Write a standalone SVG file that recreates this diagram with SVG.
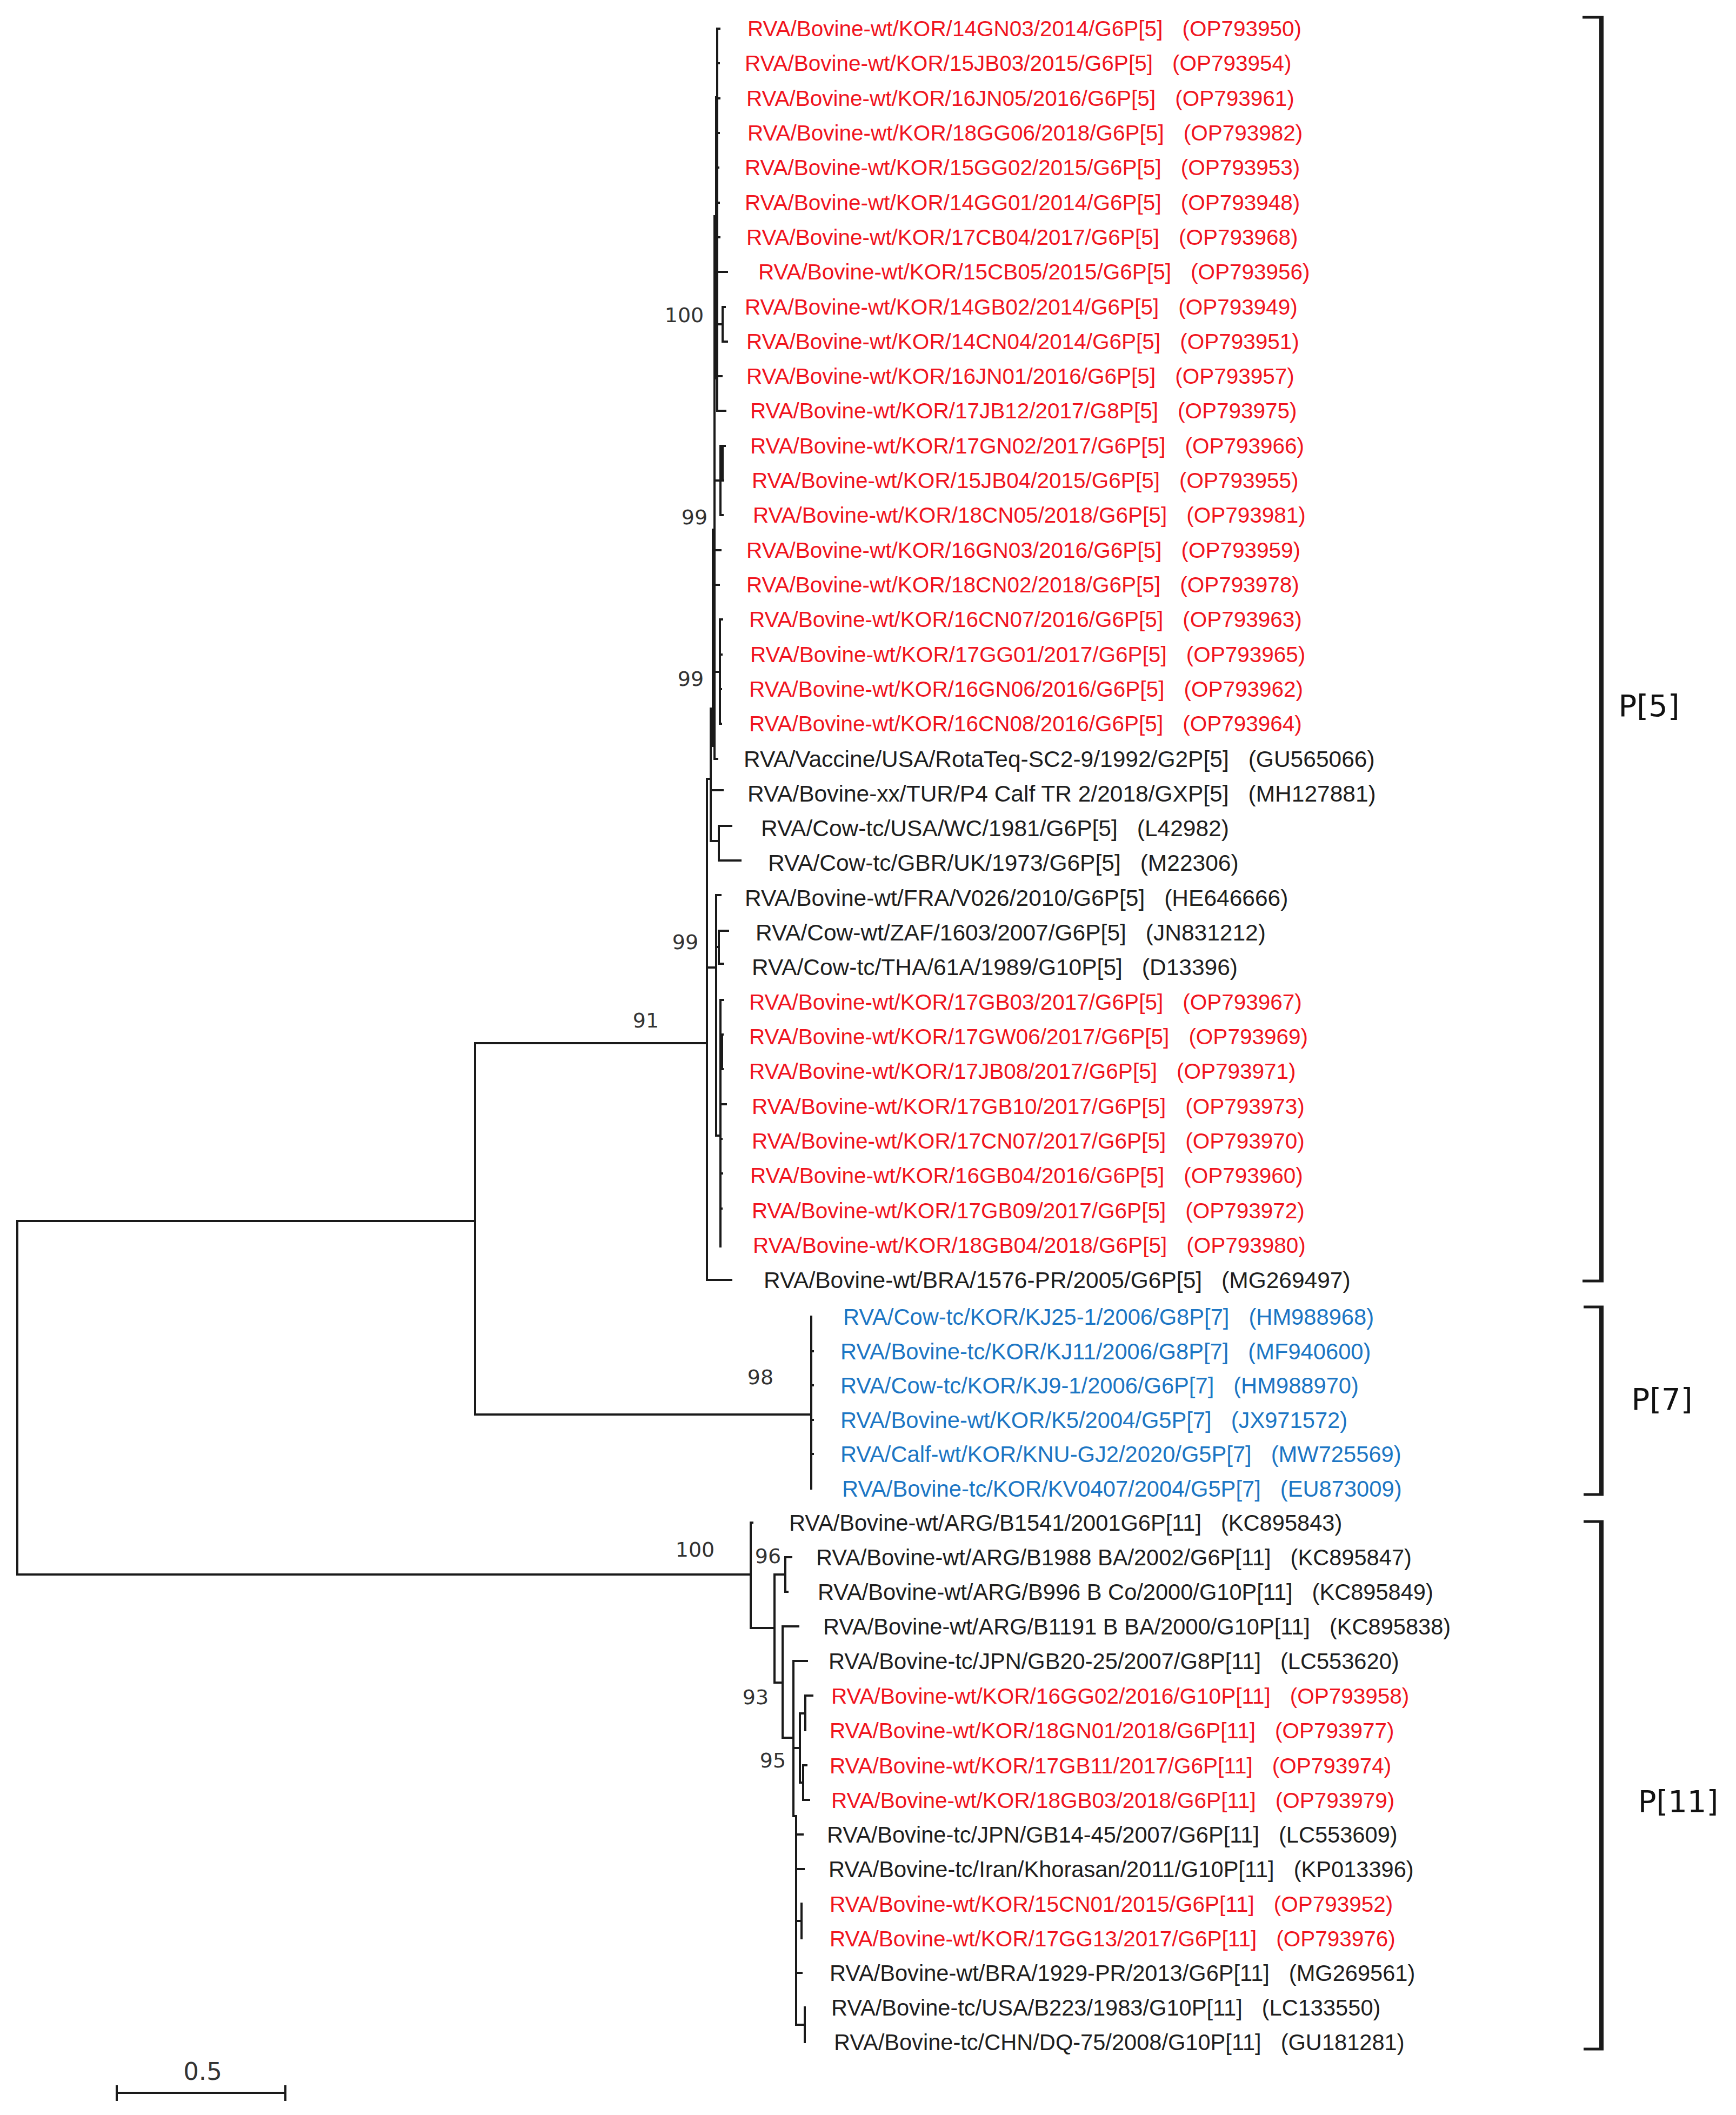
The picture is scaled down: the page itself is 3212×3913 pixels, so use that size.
<svg xmlns="http://www.w3.org/2000/svg" width="3212" height="3913" viewBox="0 0 3212 3913">
<style>
.e{fill:none;stroke:#1a1a1a;stroke-width:4;stroke-linecap:square}
.br{fill:none;stroke:#1a1a1a}
.t{font-family:"Liberation Sans",Arial,sans-serif}
.r{fill:#f0141e;font-size:40.5px}
.k{fill:#1e1e1e;font-size:42.5px}
.k2{fill:#1e1e1e;font-size:41.6px}
.b{fill:#1c76c4;font-size:41.7px}
.bs{font-family:"DejaVu Sans",sans-serif;font-size:38px;fill:#333;text-anchor:middle}
.cl{font-family:"DejaVu Sans",sans-serif;font-size:56px;fill:#111;text-anchor:middle}
</style>
<rect width="3212" height="3913" fill="#fff"/>
<g id="connectors" class="e">
<path d="M32,2259V2913M32,2259H879M32,2913H1389M879,1930V2617M879,1930H1308M879,2617H1501"/>
<path d="M1501,2436V2754M1501,2500h3M1501,2563h3M1501,2627h3M1501,2690h3"/>
<path d="M1308,1441V2368M1308,2368H1353M1308,1441H1315M1315,1311V1556M1315,1462H1337M1315,1556H1330M1330,1528V1592M1330,1528H1353M1330,1592H1370M1315,1311H1322"/>
<path d="M1322,400V1404M1322,1404H1327M1327,53V760M1322,400H1327M1325,180V700M1319,980V1380"/>
<path d="M1327,53H1331M1327,117H1330M1327,182H1331M1327,246H1330M1327,310H1329M1327,375H1330M1327,439H1331M1327,503H1345"/>
<path d="M1327,600H1337M1337,568V632M1337,568H1341M1337,632H1345M1327,696H1335M1327,760H1342"/>
<path d="M1322,889H1333M1333,825V953M1333,825H1341M1333,889H1338M1333,953H1337M1337,825V889"/>
<path d="M1322,1018H1333M1322,1082H1330"/>
<path d="M1322,1243H1332M1332,1146V1339M1332,1146H1336M1332,1211H1335M1332,1275H1334M1332,1339H1334"/>
<path d="M1308,1790H1325M1325,1656V2101M1325,1656H1333M1325,1752H1330M1330,1722V1783M1330,1722H1347M1330,1783H1338"/>
<path d="M1325,2101H1333M1333,1850V2306M1333,1850H1338M1333,1914H1337M1336,1914V1978M1333,1978H1337M1333,2043H1343M1333,2107H1335M1333,2171H1336M1333,2236H1335"/>
<path d="M1389,2817V3012M1389,2817h3M1389,3012H1433M1433,2913V3113M1433,2913H1453M1453,2881V2945M1453,2881H1464M1453,2945H1457"/>
<path d="M1433,3113H1448M1448,3009V3215M1448,3009H1477M1448,3215H1468M1468,3073V3360M1468,3073H1493"/>
<path d="M1468,3234H1480M1480,3170V3298M1480,3170H1490M1490,3137V3201M1490,3137H1503M1480,3298H1486M1486,3266V3330M1486,3266H1492M1486,3330H1497"/>
<path d="M1468,3360H1473M1473,3360V3746M1473,3394H1485M1473,3458H1487M1473,3554H1483M1483,3522V3586M1473,3650H1483M1473,3746H1489M1489,3714V3778"/>
</g>
<g id="scale-bar">
<path class="e" d="M216,3872H528M216,3860V3885M528,3860V3885"/>
<text class="bs" x="375" y="3848" style="font-size:45px">0.5</text>
</g>
<g id="clusters">
<g id="cluster-P5"><path class="br" stroke-width="8" d="M2963,30V2372"/><path class="br" stroke-width="5" d="M2928,32H2967M2928,2370H2967"/><text class="cl" x="3051" y="1325">P[5]</text></g>
<g id="cluster-P7"><path class="br" stroke-width="8" d="M2963,2416V2767"/><path class="br" stroke-width="5" d="M2930,2418H2967M2930,2765H2967"/><text class="cl" x="3075" y="2608">P[7]</text></g>
<g id="cluster-P11"><path class="br" stroke-width="8" d="M2963,2813V3793"/><path class="br" stroke-width="5" d="M2930,2815H2967M2930,3791H2967"/><text class="cl" x="3105" y="3352">P[11]</text></g>
</g>
<g id="bootstrap">
<text class="bs" x="1266" y="596">100</text>
<text class="bs" x="1285" y="970">99</text>
<text class="bs" x="1278" y="1269">99</text>
<text class="bs" x="1268" y="1756">99</text>
<text class="bs" x="1195" y="1901">91</text>
<text class="bs" x="1407" y="2561">98</text>
<text class="bs" x="1286" y="2880">100</text>
<text class="bs" x="1421" y="2892">96</text>
<text class="bs" x="1398" y="3153">93</text>
<text class="bs" x="1430" y="3270">95</text>
</g>
<g id="tips">
<g id="t1"><text class="t r" x="1383" y="67">RVA/Bovine-wt/KOR/14GN03/2014/G6P[5]<tspan dx="36">(OP793950)</tspan></text></g>
<g id="t2"><text class="t r" x="1378" y="131">RVA/Bovine-wt/KOR/15JB03/2015/G6P[5]<tspan dx="36">(OP793954)</tspan></text></g>
<g id="t3"><text class="t r" x="1381" y="196">RVA/Bovine-wt/KOR/16JN05/2016/G6P[5]<tspan dx="36">(OP793961)</tspan></text></g>
<g id="t4"><text class="t r" x="1383" y="260">RVA/Bovine-wt/KOR/18GG06/2018/G6P[5]<tspan dx="36">(OP793982)</tspan></text></g>
<g id="t5"><text class="t r" x="1378" y="324">RVA/Bovine-wt/KOR/15GG02/2015/G6P[5]<tspan dx="36">(OP793953)</tspan></text></g>
<g id="t6"><text class="t r" x="1378" y="389">RVA/Bovine-wt/KOR/14GG01/2014/G6P[5]<tspan dx="36">(OP793948)</tspan></text></g>
<g id="t7"><text class="t r" x="1381" y="453">RVA/Bovine-wt/KOR/17CB04/2017/G6P[5]<tspan dx="36">(OP793968)</tspan></text></g>
<g id="t8"><text class="t r" x="1403" y="517">RVA/Bovine-wt/KOR/15CB05/2015/G6P[5]<tspan dx="36">(OP793956)</tspan></text></g>
<g id="t9"><text class="t r" x="1378" y="582">RVA/Bovine-wt/KOR/14GB02/2014/G6P[5]<tspan dx="36">(OP793949)</tspan></text></g>
<g id="t10"><text class="t r" x="1381" y="646">RVA/Bovine-wt/KOR/14CN04/2014/G6P[5]<tspan dx="36">(OP793951)</tspan></text></g>
<g id="t11"><text class="t r" x="1381" y="710">RVA/Bovine-wt/KOR/16JN01/2016/G6P[5]<tspan dx="36">(OP793957)</tspan></text></g>
<g id="t12"><text class="t r" x="1388" y="774">RVA/Bovine-wt/KOR/17JB12/2017/G8P[5]<tspan dx="36">(OP793975)</tspan></text></g>
<g id="t13"><text class="t r" x="1388" y="839">RVA/Bovine-wt/KOR/17GN02/2017/G6P[5]<tspan dx="36">(OP793966)</tspan></text></g>
<g id="t14"><text class="t r" x="1391" y="903">RVA/Bovine-wt/KOR/15JB04/2015/G6P[5]<tspan dx="36">(OP793955)</tspan></text></g>
<g id="t15"><text class="t r" x="1393" y="967">RVA/Bovine-wt/KOR/18CN05/2018/G6P[5]<tspan dx="36">(OP793981)</tspan></text></g>
<g id="t16"><text class="t r" x="1381" y="1032">RVA/Bovine-wt/KOR/16GN03/2016/G6P[5]<tspan dx="36">(OP793959)</tspan></text></g>
<g id="t17"><text class="t r" x="1381" y="1096">RVA/Bovine-wt/KOR/18CN02/2018/G6P[5]<tspan dx="36">(OP793978)</tspan></text></g>
<g id="t18"><text class="t r" x="1386" y="1160">RVA/Bovine-wt/KOR/16CN07/2016/G6P[5]<tspan dx="36">(OP793963)</tspan></text></g>
<g id="t19"><text class="t r" x="1388" y="1225">RVA/Bovine-wt/KOR/17GG01/2017/G6P[5]<tspan dx="36">(OP793965)</tspan></text></g>
<g id="t20"><text class="t r" x="1386" y="1289">RVA/Bovine-wt/KOR/16GN06/2016/G6P[5]<tspan dx="36">(OP793962)</tspan></text></g>
<g id="t21"><text class="t r" x="1386" y="1353">RVA/Bovine-wt/KOR/16CN08/2016/G6P[5]<tspan dx="36">(OP793964)</tspan></text></g>
<g id="t22"><text class="t k" x="1376" y="1419">RVA/Vaccine/USA/RotaTeq-SC2-9/1992/G2P[5]<tspan dx="36">(GU565066)</tspan></text></g>
<g id="t23"><text class="t k" x="1383" y="1483">RVA/Bovine-xx/TUR/P4 Calf TR 2/2018/GXP[5]<tspan dx="36">(MH127881)</tspan></text></g>
<g id="t24"><text class="t k" x="1408" y="1547">RVA/Cow-tc/USA/WC/1981/G6P[5]<tspan dx="36">(L42982)</tspan></text></g>
<g id="t25"><text class="t k" x="1421" y="1611">RVA/Cow-tc/GBR/UK/1973/G6P[5]<tspan dx="36">(M22306)</tspan></text></g>
<g id="t26"><text class="t k" x="1378" y="1676">RVA/Bovine-wt/FRA/V026/2010/G6P[5]<tspan dx="36">(HE646666)</tspan></text></g>
<g id="t27"><text class="t k" x="1398" y="1740">RVA/Cow-wt/ZAF/1603/2007/G6P[5]<tspan dx="36">(JN831212)</tspan></text></g>
<g id="t28"><text class="t k" x="1391" y="1804">RVA/Cow-tc/THA/61A/1989/G10P[5]<tspan dx="36">(D13396)</tspan></text></g>
<g id="t29"><text class="t r" x="1386" y="1868">RVA/Bovine-wt/KOR/17GB03/2017/G6P[5]<tspan dx="36">(OP793967)</tspan></text></g>
<g id="t30"><text class="t r" x="1386" y="1932">RVA/Bovine-wt/KOR/17GW06/2017/G6P[5]<tspan dx="36">(OP793969)</tspan></text></g>
<g id="t31"><text class="t r" x="1386" y="1996">RVA/Bovine-wt/KOR/17JB08/2017/G6P[5]<tspan dx="36">(OP793971)</tspan></text></g>
<g id="t32"><text class="t r" x="1391" y="2061">RVA/Bovine-wt/KOR/17GB10/2017/G6P[5]<tspan dx="36">(OP793973)</tspan></text></g>
<g id="t33"><text class="t r" x="1391" y="2125">RVA/Bovine-wt/KOR/17CN07/2017/G6P[5]<tspan dx="36">(OP793970)</tspan></text></g>
<g id="t34"><text class="t r" x="1388" y="2189">RVA/Bovine-wt/KOR/16GB04/2016/G6P[5]<tspan dx="36">(OP793960)</tspan></text></g>
<g id="t35"><text class="t r" x="1391" y="2254">RVA/Bovine-wt/KOR/17GB09/2017/G6P[5]<tspan dx="36">(OP793972)</tspan></text></g>
<g id="t36"><text class="t r" x="1393" y="2318">RVA/Bovine-wt/KOR/18GB04/2018/G6P[5]<tspan dx="36">(OP793980)</tspan></text></g>
<g id="t37"><text class="t k" x="1413" y="2383">RVA/Bovine-wt/BRA/1576-PR/2005/G6P[5]<tspan dx="36">(MG269497)</tspan></text></g>
<g id="t38"><text class="t b" x="1560" y="2451">RVA/Cow-tc/KOR/KJ25-1/2006/G8P[7]<tspan dx="36">(HM988968)</tspan></text></g>
<g id="t39"><text class="t b" x="1555" y="2515">RVA/Bovine-tc/KOR/KJ11/2006/G8P[7]<tspan dx="36">(MF940600)</tspan></text></g>
<g id="t40"><text class="t b" x="1555" y="2578">RVA/Cow-tc/KOR/KJ9-1/2006/G6P[7]<tspan dx="36">(HM988970)</tspan></text></g>
<g id="t41"><text class="t b" x="1555" y="2642">RVA/Bovine-wt/KOR/K5/2004/G5P[7]<tspan dx="36">(JX971572)</tspan></text></g>
<g id="t42"><text class="t b" x="1555" y="2705">RVA/Calf-wt/KOR/KNU-GJ2/2020/G5P[7]<tspan dx="36">(MW725569)</tspan></text></g>
<g id="t43"><text class="t b" x="1558" y="2769">RVA/Bovine-tc/KOR/KV0407/2004/G5P[7]<tspan dx="36">(EU873009)</tspan></text></g>
<g id="t44"><text class="t k2" x="1460" y="2832">RVA/Bovine-wt/ARG/B1541/2001G6P[11]<tspan dx="36">(KC895843)</tspan></text></g>
<g id="t45"><text class="t k2" x="1510" y="2896">RVA/Bovine-wt/ARG/B1988 BA/2002/G6P[11]<tspan dx="36">(KC895847)</tspan></text></g>
<g id="t46"><text class="t k2" x="1513" y="2960">RVA/Bovine-wt/ARG/B996 B Co/2000/G10P[11]<tspan dx="36">(KC895849)</tspan></text></g>
<g id="t47"><text class="t k2" x="1523" y="3024">RVA/Bovine-wt/ARG/B1191 B BA/2000/G10P[11]<tspan dx="36">(KC895838)</tspan></text></g>
<g id="t48"><text class="t k2" x="1533" y="3088">RVA/Bovine-tc/JPN/GB20-25/2007/G8P[11]<tspan dx="36">(LC553620)</tspan></text></g>
<g id="t49"><text class="t r" x="1538" y="3152">RVA/Bovine-wt/KOR/16GG02/2016/G10P[11]<tspan dx="36">(OP793958)</tspan></text></g>
<g id="t50"><text class="t r" x="1535" y="3216">RVA/Bovine-wt/KOR/18GN01/2018/G6P[11]<tspan dx="36">(OP793977)</tspan></text></g>
<g id="t51"><text class="t r" x="1535" y="3281">RVA/Bovine-wt/KOR/17GB11/2017/G6P[11]<tspan dx="36">(OP793974)</tspan></text></g>
<g id="t52"><text class="t r" x="1538" y="3345">RVA/Bovine-wt/KOR/18GB03/2018/G6P[11]<tspan dx="36">(OP793979)</tspan></text></g>
<g id="t53"><text class="t k2" x="1530" y="3409">RVA/Bovine-tc/JPN/GB14-45/2007/G6P[11]<tspan dx="36">(LC553609)</tspan></text></g>
<g id="t54"><text class="t k2" x="1533" y="3473">RVA/Bovine-tc/Iran/Khorasan/2011/G10P[11]<tspan dx="36">(KP013396)</tspan></text></g>
<g id="t55"><text class="t r" x="1535" y="3537">RVA/Bovine-wt/KOR/15CN01/2015/G6P[11]<tspan dx="36">(OP793952)</tspan></text></g>
<g id="t56"><text class="t r" x="1535" y="3601">RVA/Bovine-wt/KOR/17GG13/2017/G6P[11]<tspan dx="36">(OP793976)</tspan></text></g>
<g id="t57"><text class="t k2" x="1535" y="3665">RVA/Bovine-wt/BRA/1929-PR/2013/G6P[11]<tspan dx="36">(MG269561)</tspan></text></g>
<g id="t58"><text class="t k2" x="1538" y="3729">RVA/Bovine-tc/USA/B223/1983/G10P[11]<tspan dx="36">(LC133550)</tspan></text></g>
<g id="t59"><text class="t k2" x="1543" y="3793">RVA/Bovine-tc/CHN/DQ-75/2008/G10P[11]<tspan dx="36">(GU181281)</tspan></text></g>
</g>
</svg>
